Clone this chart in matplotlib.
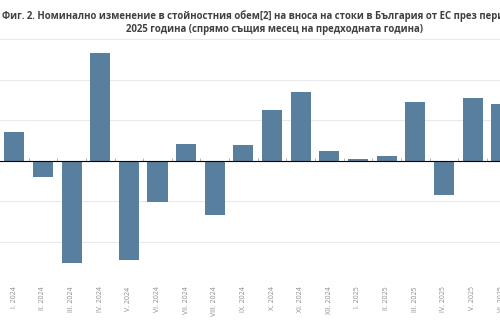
import matplotlib.pyplot as plt
import numpy as np

# Monthly change, % vs same month of previous year
months = ["I. 2024", "II. 2024", "III. 2024", "IV. 2024", "V. 2024", "VI. 2024",
          "VII. 2024", "VIII. 2024", "IX. 2024", "X. 2024", "XI. 2024", "XII. 2024",
          "I. 2025", "II. 2025", "III. 2025", "IV. 2025", "V. 2025", "VI. 2025"]
change = [3.5, -2.0, -12.6, 13.3, -12.2, -5.1,
          2.1, -6.7, 1.9, 6.2, 8.5, 1.2,
          0.2, 0.6, 7.3, -4.2, 7.7, 7.0]

titleLine1 = "Фиг. 2. Номинално изменение в стойностния обем[2] на вноса на стоки в България от ЕС през периода 2024 -"
titleLine2 = "2025 година (спрямо същия месец на предходната година)"

barColour = "#587f9d"
gridColour = "#e9e9e9"
labelColour = "#8c8c8c"
titleFont = dict(fontsize=6.9, fontweight="bold", color="#404040",
                 family=["Open Sans", "DejaVu Sans"])

fig = plt.figure(figsize=(5, 3.3), dpi=100)
fig.patch.set_facecolor("white")

# plot area is wider than the canvas, so the y labels fall off the left side
ax = fig.add_axes([0.0, 0.1448, 1.031, 0.7364])
x = np.arange(len(months))
ax.bar(x, change, width=0.7, color=barColour, zorder=3)

ax.set_xlim(-0.5, len(months) - 0.5)
ax.set_ylim(-15, 15)
ax.set_yticks(np.arange(-15, 16, 5))
ax.yaxis.grid(True, color=gridColour, lw=0.8, zorder=0)
ax.tick_params(axis="y", length=0, labelleft=False)
for side in ["top", "bottom", "left", "right"]:
    ax.spines[side].set_visible(False)

ax.set_xticks(x)
ax.set_xticklabels(months, rotation=90, va="top", ha="center",
                   fontsize=5, color=labelColour, family=["Open Sans", "DejaVu Sans"])
ax.tick_params(axis="x", length=0, pad=3)

# zero line with ticks between the months
zero = ax.secondary_xaxis(0.5)
zero.set_xticks(x[:-1] + 0.5)
zero.set_xticklabels([])
zero.tick_params(axis="x", length=2.5, width=0.6, color="#a6a6a6", direction="out")
zero.spines["bottom"].set_color("#bdbdbd")
zero.spines["bottom"].set_linewidth(0.8)
zero.set_zorder(4)

fig.text(0.004, 0.952, titleLine1, ha="left", va="center", **titleFont)
fig.text(0.55, 0.912, titleLine2, ha="center", va="center", **titleFont)

fig.savefig("out.png", dpi=100, facecolor="white")
